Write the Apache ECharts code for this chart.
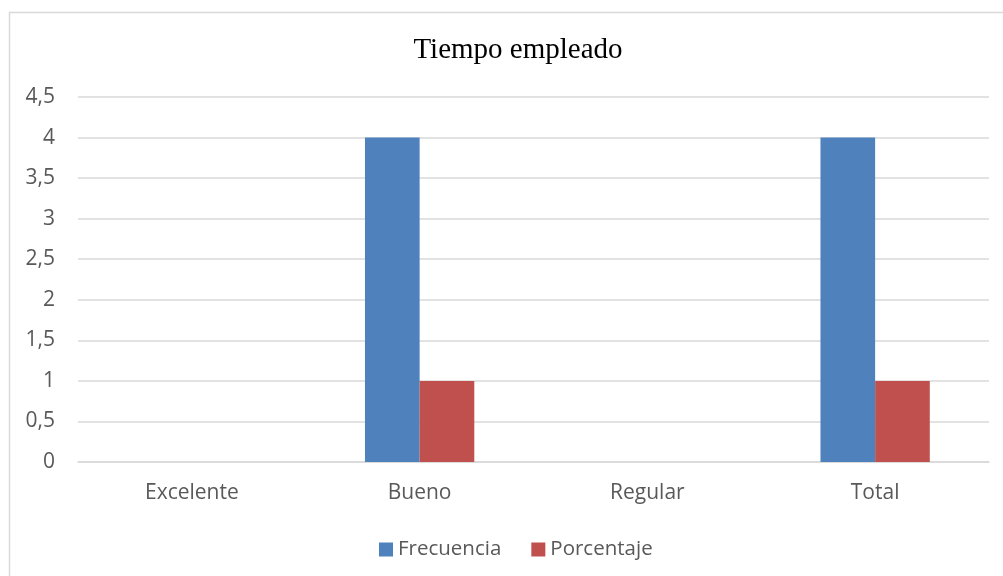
<!DOCTYPE html>
<html><head><meta charset="utf-8">
<script src="https://cdn.jsdelivr.net/npm/echarts@6/dist/echarts.min.js"></script>
<style>html,body{margin:0;padding:0;background:#fff}#c{width:1003px;height:576px}</style>
</head><body><div id="c"></div>
<script>
var categories = ['Excelente', 'Bueno', 'Regular', 'Total'];
var frecuencia = [0, 4, 0, 4];
var porcentaje = [0, 1, 0, 1];
var seriesNames = ['Frecuencia', 'Porcentaje'];
var titleText = 'Tiempo empleado';

var chart = echarts.init(document.getElementById('c'));
chart.setOption({
  animation: false,
  backgroundColor: '#fff',
  graphic: [{
    type: 'rect', left: 7, top: 10,
    shape: { width: 1100, height: 700 },
    style: { fill: 'none', stroke: '#d9d9d9', lineWidth: 1.5 },
    z: -1
  }],
  title: {
    text: titleText, left: 513, top: 31, textAlign: 'center',
    textStyle: { fontFamily: 'Liberation Serif', fontWeight: 'normal', fontSize: 29, color: '#000' }
  },
  legend: {
    data: seriesNames, top: 534, left: 374, itemGap: 30,
    itemWidth: 14, itemHeight: 14, icon: 'rect',
    textStyle: { fontFamily: 'Open Sans', fontSize: 20.5, color: '#595959' }
  },
  grid: { left: 78, right: 14, top: 97, bottom: 114 },
  xAxis: {
    type: 'category', data: categories,
    axisLine: { lineStyle: { color: '#d9d9d9', width: 1.5 } },
    axisTick: { show: false },
    axisLabel: { fontFamily: 'Open Sans', fontSize: 21, color: '#595959', margin: 21 }
  },
  yAxis: {
    type: 'value', min: 0, max: 4.5, interval: 0.5,
    axisLine: { show: false }, axisTick: { show: false },
    splitLine: { lineStyle: { color: '#d9d9d9', width: 1.5 } },
    axisLabel: {
      fontFamily: 'Open Sans', fontSize: 21, color: '#595959', margin: 23,
      formatter: function (v) { return String(v).replace('.', ','); }
    }
  },
  series: [
    { name: seriesNames[0], type: 'bar', data: frecuencia, barGap: '0%', barCategoryGap: '52%',
      itemStyle: { color: '#4F81BD' } },
    { name: seriesNames[1], type: 'bar', data: porcentaje,
      itemStyle: { color: '#C0504D' } }
  ]
});
</script></body></html>
